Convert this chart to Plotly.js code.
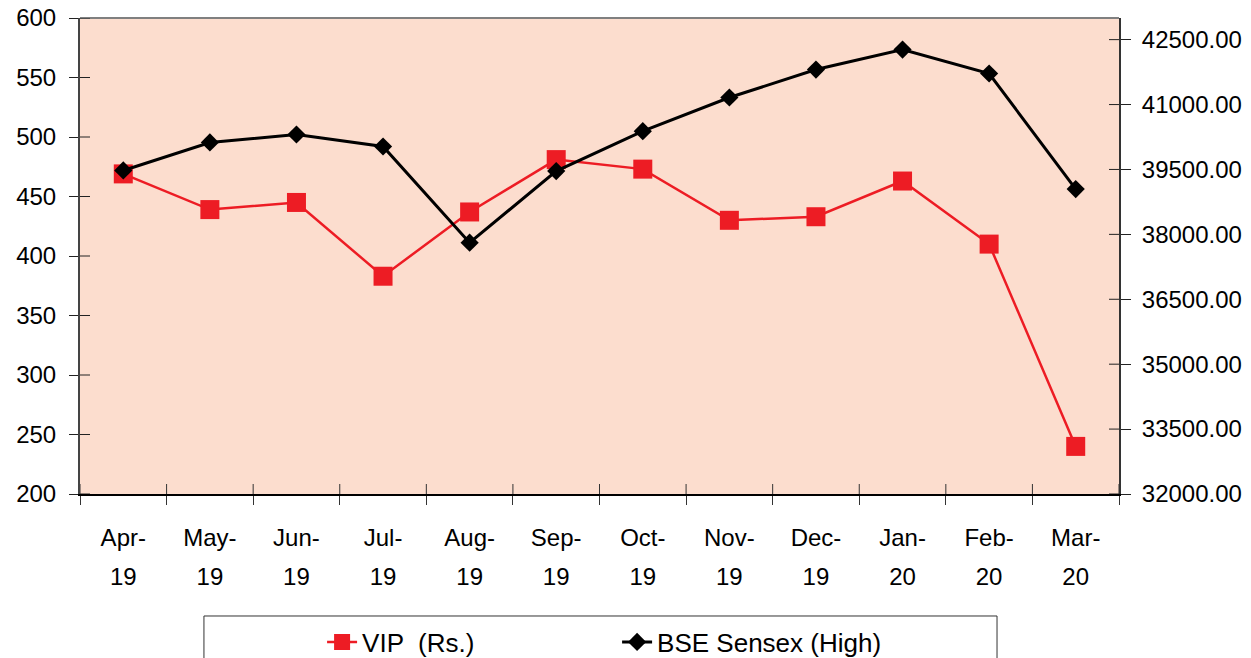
<!DOCTYPE html>
<html><head><meta charset="utf-8">
<script src="https://cdn.plot.ly/plotly-3.0.1.min.js"></script>
<style>html,body{margin:0;padding:0;background:#fff}#chart{width:1251px;height:658px}</style>
</head><body><div id="chart"></div>
<script>
const categories = ["Apr-19","May-19","Jun-19","Jul-19","Aug-19","Sep-19","Oct-19","Nov-19","Dec-19","Jan-20","Feb-20","Mar-20"];
const monthLabels = ["Apr-","May-","Jun-","Jul-","Aug-","Sep-","Oct-","Nov-","Dec-","Jan-","Feb-","Mar-"];
const yearLabels = ["19","19","19","19","19","19","19","19","19","20","20","20"];
const vipPrice = [469, 439, 445, 383, 437, 481, 473, 430, 433, 463, 410, 240];
const bseHigh = [39477, 40124, 40308, 40031, 37809, 39462, 40385, 41163, 41809, 42271, 41717, 39047];
const leftTickVals = [200, 250, 300, 350, 400, 450, 500, 550, 600];
const rightTickVals = [32000, 33500, 35000, 36500, 38000, 39500, 41000, 42500];

const idx = categories.map((c, i) => i);
const bounds = idx.map(i => i - 0.5).concat([categories.length - 0.5]);
const FONT = "Liberation Sans, Arial, sans-serif";

const traces = [
  {name: "VIP  (Rs.)", x: categories, y: vipPrice, xaxis: "x", yaxis: "y", type: "scatter", mode: "lines+markers",
   line: {color: "#ED1C24", width: 2.5}, marker: {symbol: "square", size: 19, color: "#ED1C24"}},
  {name: "BSE Sensex (High)", x: categories, y: bseHigh, xaxis: "x", yaxis: "y2", type: "scatter", mode: "lines+markers",
   line: {color: "#000000", width: 3}, marker: {symbol: "diamond", size: 14, color: "#000000"}},
  // carrier for the year-label axis; draws nothing
  {x: idx, y: vipPrice, xaxis: "x2", yaxis: "y", type: "scatter", mode: "none", showlegend: false, hoverinfo: "skip"}
];

// inner halves of the crossing tick marks
const tickShapes = [];
leftTickVals.forEach(v => tickShapes.push({type: "line", layer: "above", xref: "paper", yref: "y",
  x0: 0, x1: 10 / 1039, y0: v, y1: v, line: {color: "#222", width: 1}}));
rightTickVals.forEach(v => tickShapes.push({type: "line", layer: "above", xref: "paper", yref: "y2",
  x0: 1, x1: 1 - 10 / 1039, y0: v, y1: v, line: {color: "#222", width: 1}}));
bounds.forEach(b => tickShapes.push({type: "line", layer: "above", xref: "x", yref: "paper",
  x0: b, x1: b, y0: 0, y1: 10 / 476, line: {color: "#333", width: 1}}));

const layout = {
  width: 1251, height: 658,
  margin: {l: 80, r: 132, t: 18, b: 164, pad: 0, autoexpand: false},
  paper_bgcolor: "#ffffff", plot_bgcolor: "#FCDDCE",
  font: {family: FONT, size: 24, color: "#000"},
  showlegend: true,
  legend: {orientation: "h", x: 0.233, xanchor: "left", y: -0.311, yanchor: "middle",
           font: {family: FONT, size: 26, color: "#000"}, bgcolor: "rgba(0,0,0,0)", borderwidth: 0,
           entrywidth: 250, entrywidthmode: "pixels"},
  xaxis: {type: "category", categoryorder: "array", categoryarray: categories, range: [-0.5, categories.length - 0.5],
          tickmode: "array", tickvals: categories, ticktext: monthLabels, tickson: "boundaries",
          ticks: "outside", ticklen: 9, tickcolor: "#333", tickwidth: 1, automargin: false,
          showline: true, linecolor: "#000", linewidth: 2, showgrid: false, zeroline: false,
          ticklabelstandoff: 21, tickfont: {size: 24}},
  xaxis2: {overlaying: "x", anchor: "y", type: "linear", range: [-0.5, categories.length - 0.5], automargin: false,
           tickmode: "array", tickvals: idx, ticktext: yearLabels, ticks: "",
           showline: false, showgrid: false, zeroline: false, ticklabelstandoff: 66, tickfont: {size: 24}},
  yaxis: {range: [200, 600], tickmode: "array", tickvals: leftTickVals, ticks: "outside", ticklen: 9, tickcolor: "#222", automargin: false,
          showline: true, linecolor: "#444", linewidth: 2, showgrid: false, zeroline: false,
          ticklabelstandoff: 8, tickfont: {size: 24}},
  yaxis2: {overlaying: "y", anchor: "x", side: "right", range: [32000, 43000], tickmode: "array", tickvals: rightTickVals,
           tickformat: ".2f", ticks: "outside", ticklen: 10, tickcolor: "#222", automargin: false,
           showline: true, linecolor: "#333", linewidth: 2, showgrid: false, zeroline: false,
           ticklabelstandoff: 6, tickfont: {size: 24}},
  shapes: [
    {type: "line", xref: "paper", yref: "paper", x0: 0, x1: 1, y0: 1, y1: 1, line: {color: "#808080", width: 2}},
    {type: "rect", xref: "paper", yref: "paper", x0: 0.1193, x1: 0.8826, y0: -0.37, y1: -0.2563,
     line: {color: "#333", width: 1}, fillcolor: "rgba(0,0,0,0)"}
  ].concat(tickShapes)
};

Plotly.newPlot("chart", traces, layout, {staticPlot: true, displayModeBar: false});
</script></body></html>
